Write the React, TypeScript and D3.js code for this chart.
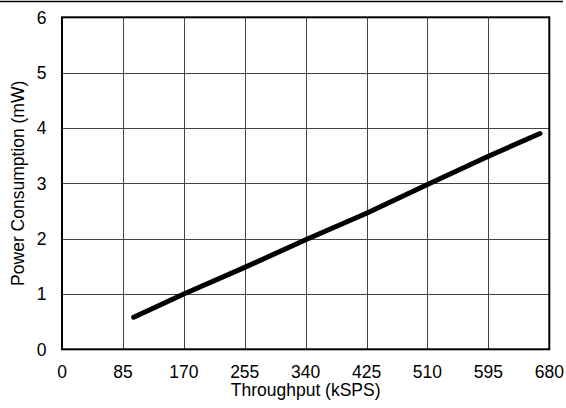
import React from "react";
import * as d3 from "d3";

const throughput = [100, 170, 255, 340, 425, 510, 595, 667];
const power = [0.58, 1.0, 1.48, 1.98, 2.46, 2.98, 3.49, 3.9];
const xTicks = [0, 85, 170, 255, 340, 425, 510, 595, 680];
const yTicks = [0, 1, 2, 3, 4, 5, 6];

const W = 566;
const H = 408;
const M = { left: 62, right: 549.3, top: 17.3, bottom: 349.3 };

export default function App() {
  const x = d3.scaleLinear().domain([0, 680]).range([M.left, M.right]);
  const y = d3.scaleLinear().domain([0, 6]).range([M.bottom, M.top]);
  const data = throughput.map((t, i) => [t, power[i]] as [number, number]);
  const line = d3
    .line<[number, number]>()
    .x((d) => x(d[0]))
    .y((d) => y(d[1]));
  const font = "'Liberation Sans', Arial, sans-serif";
  return (
    <svg
      width={W}
      height={H}
      style={{ position: "absolute", left: 0, top: 0, background: "#fff" }}
      fontFamily={font}
    >
      <line x1={0} x2={563} y1={1.5} y2={1.5} stroke="#000" strokeWidth={1.5} />
      {xTicks.slice(1, -1).map((t) => (
        <line
          key={"gx" + t}
          x1={Math.round(x(t)) + 0.5}
          x2={Math.round(x(t)) + 0.5}
          y1={M.top}
          y2={M.bottom}
          stroke="#444"
          strokeWidth={1}
        />
      ))}
      {yTicks.slice(1, -1).map((t) => (
        <line
          key={"gy" + t}
          x1={M.left}
          x2={M.right}
          y1={Math.round(y(t)) + 0.5}
          y2={Math.round(y(t)) + 0.5}
          stroke="#444"
          strokeWidth={1}
        />
      ))}
      <rect
        x={M.left}
        y={M.top}
        width={M.right - M.left}
        height={M.bottom - M.top}
        fill="none"
        stroke="#000"
        strokeWidth={2}
      />
      <path
        d={line(data) || ""}
        fill="none"
        stroke="#000"
        strokeWidth={5}
        strokeLinecap="round"
        strokeLinejoin="round"
      />
      {xTicks.map((t) => (
        <text key={"tx" + t} x={x(t)} y={377.5} fontSize={17.5} textAnchor="middle" fill="#000">
          {t}
        </text>
      ))}
      {yTicks.map((t) => (
        <text
          key={"ty" + t}
          x={46.5}
          y={y(t) + 6.3}
          fontSize={17.5}
          textAnchor="end"
          fill="#000"
        >
          {t}
        </text>
      ))}
      <text x={(M.left + M.right) / 2} y={396} fontSize={17.5} textAnchor="middle" fill="#000">
        Throughput (kSPS)
      </text>
      <text
        transform={`translate(24,${(M.top + M.bottom) / 2}) rotate(-90)`}
        fontSize={17.5}
        textAnchor="middle"
        fill="#000"
      >
        Power Consumption (mW)
      </text>
    </svg>
  );
}
